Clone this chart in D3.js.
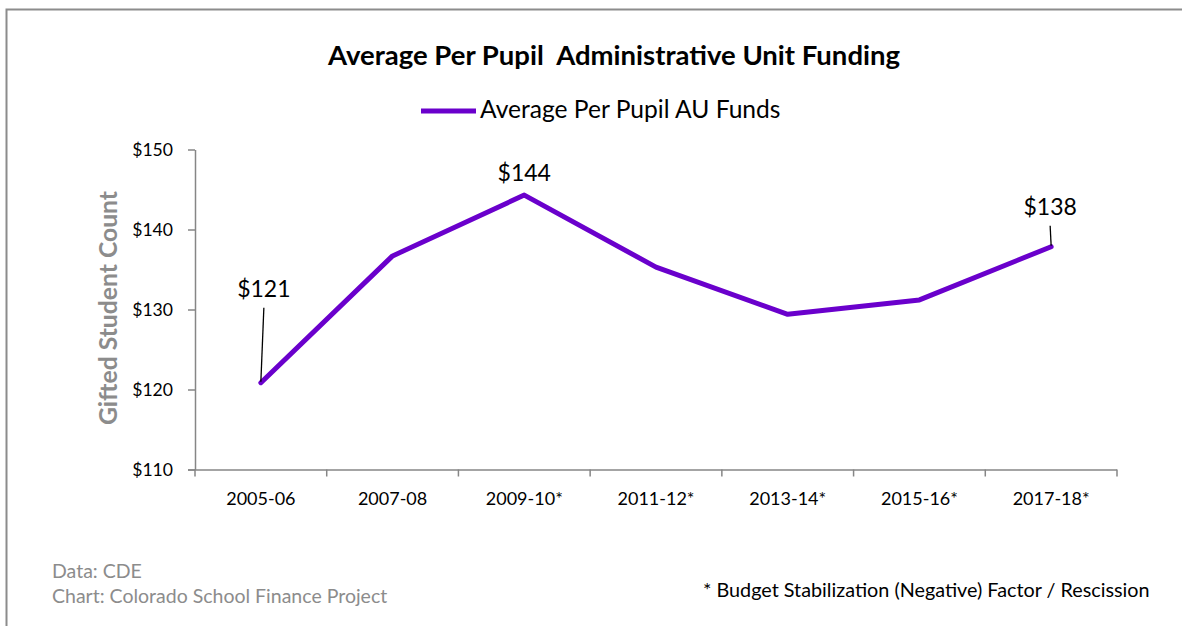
<!DOCTYPE html>
<html>
<head>
<meta charset="utf-8">
<script src="https://cdn.jsdelivr.net/npm/d3@7"></script>
<style>
  body { margin: 0; background: #fff; }
  svg { display: block; font-family: Lato, "Open Sans", sans-serif; }
</style>
</head>
<body>
<svg id="chart" width="1182" height="626"></svg>
<script>
const categories = ["2005-06", "2007-08", "2009-10*", "2011-12*", "2013-14*", "2015-16*", "2017-18*"];
const values = [120.85, 136.7, 144.3, 135.3, 129.4, 131.2, 137.85];
const yTicks = [110, 120, 130, 140, 150];
const labeled = [
  { i: 0, text: "$121", dx: 3, dy: -86, leader: true },
  { i: 2, text: "$144", dx: 0, dy: -14, leader: false },
  { i: 6, text: "$138", dx: -1, dy: -32, leader: true }
];

(function () {
const svg = d3.select("#chart");
const W = 1182, H = 626;
const pLeft = 195, pRight = 1117, pTop = 149.5, pBottom = 469.5;
const purple = "#6a00cc";
const gray = "#868686";

svg.append("rect").attr("x", 6.5).attr("y", 9.5).attr("width", W + 10).attr("height", H + 10)
  .attr("fill", "none").attr("stroke", "#8c8c8c").attr("stroke-width", 2);

const x = d3.scaleBand().domain(categories).range([pLeft, pRight]);
const y = d3.scaleLinear().domain([110, 150]).range([pBottom, pTop]);

// axes
const yAxis = d3.axisLeft(y).tickValues(yTicks).tickSize(7).tickSizeOuter(0).tickFormat(d => "$" + d);
const gy = svg.append("g").attr("transform", `translate(${pLeft},0)`).call(yAxis);
gy.select(".domain").attr("stroke", gray).attr("stroke-width", 1.5);
gy.selectAll(".tick line").attr("stroke", gray).attr("stroke-width", 1.5);
gy.selectAll(".tick text").attr("font-size", 17.6).attr("fill", "#000").attr("x", -22).attr("dy", "0.35em")
  .attr("font-family", "Lato, sans-serif");

const xAxis = d3.axisBottom(x).tickSize(7).tickSizeOuter(0);
const gx = svg.append("g").attr("transform", `translate(0,${pBottom})`).call(xAxis);
gx.select(".domain").attr("stroke", gray).attr("stroke-width", 1.5).attr("d", `M${pLeft - 7},0.5H${pRight}`);
gx.selectAll(".tick line").remove();
const edges = categories.map(c => x(c)).concat([pRight]);
gx.selectAll(".edge").data(edges).enter().append("line")
  .attr("x1", d => d).attr("x2", d => d).attr("y1", 0).attr("y2", 7)
  .attr("stroke", gray).attr("stroke-width", 1.5);
gx.selectAll(".tick text").attr("font-size", 18).attr("fill", "#000").attr("y", 23).attr("dy", "0.71em")
  .attr("font-family", "Lato, sans-serif");

// line
const cx = c => x(c) + x.bandwidth() / 2;
const line = d3.line().x((d, i) => cx(categories[i])).y(d => y(d));
svg.append("path").datum(values).attr("d", line).attr("fill", "none")
  .attr("stroke", purple).attr("stroke-width", 5).attr("stroke-linejoin", "round").attr("stroke-linecap", "round");

// data labels
labeled.forEach(l => {
  const px = cx(categories[l.i]), py = y(values[l.i]);
  svg.append("text").attr("x", px + l.dx).attr("y", py + l.dy).attr("text-anchor", "middle")
    .attr("font-size", 23).attr("fill", "#000").text(l.text);
  if (l.leader) {
    svg.append("line").attr("x1", px + l.dx).attr("y1", py + l.dy + 11).attr("x2", px).attr("y2", py - 1)
      .attr("stroke", "#000").attr("stroke-width", 1.3);
  }
});

// title
svg.append("text").attr("x", 614).attr("y", 65).attr("text-anchor", "middle")
  .attr("font-size", 27.5).attr("font-weight", "bold").attr("fill", "#000")
  .attr("xml:space", "preserve").text("Average Per Pupil  Administrative Unit Funding");

// legend
svg.append("line").attr("x1", 421).attr("x2", 476).attr("y1", 111).attr("y2", 111)
  .attr("stroke", purple).attr("stroke-width", 5);
svg.append("text").attr("x", 480).attr("y", 118).attr("font-size", 24.6).attr("fill", "#000")
  .text("Average Per Pupil AU Funds");

// y title
svg.append("text").attr("transform", "translate(117,308) rotate(-90)").attr("text-anchor", "middle")
  .attr("font-size", 24.7).attr("font-weight", "bold").attr("fill", "#8c8c8c").text("Gifted Student Count");

// footers
svg.append("text").attr("x", 52).attr("y", 578).attr("font-size", 19.5).attr("fill", "#8c8c8c").text("Data: CDE");
svg.append("text").attr("x", 52).attr("y", 603).attr("font-size", 19.5).attr("fill", "#8c8c8c").text("Chart: Colorado School Finance Project");
svg.append("text").attr("x", 703).attr("y", 597).attr("font-size", 19.8).attr("fill", "#000").text("* Budget Stabilization (Negative) Factor / Rescission");
})();
</script>
</body>
</html>
